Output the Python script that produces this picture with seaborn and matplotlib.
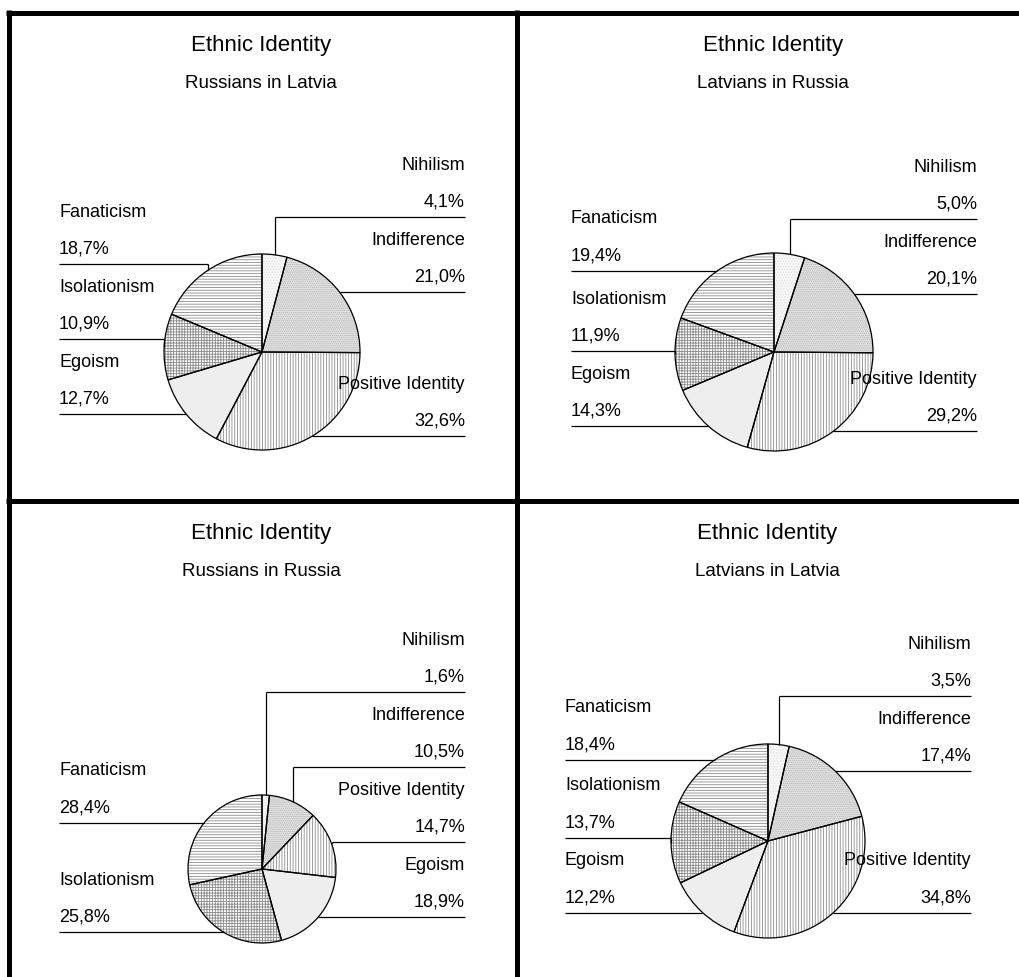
import numpy as np
import matplotlib
matplotlib.use("Agg")
import matplotlib.pyplot as plt
import seaborn as sns

# ---- data -------------------------------------------------------------
categories = ["Nihilism", "Indifference", "Positive Identity",
              "Egoism", "Isolationism", "Fanaticism"]
chart_title = "Ethnic Identity"
groups = ["Russians in Latvia", "Latvians in Russia",
          "Russians in Russia", "Latvians in Latvia"]
russians_in_latvia = [4.1, 21.0, 32.6, 12.7, 10.9, 18.7]
latvians_in_russia = [5.0, 20.1, 29.2, 14.3, 11.9, 19.4]
russians_in_russia = [1.6, 10.5, 14.7, 18.9, 25.8, 28.4]
latvians_in_latvia = [3.5, 17.4, 34.8, 12.2, 13.7, 18.4]
series = [russians_in_latvia, latvians_in_russia,
          russians_in_russia, latvians_in_latvia]

# ---- styling ----------------------------------------------------------
face = {"Nihilism": "#f7f7f7", "Indifference": "#e2e2e2",
        "Positive Identity": "white", "Egoism": "#eeeeee",
        "Isolationism": "white", "Fanaticism": "white"}
hatch = {"Nihilism": "......", "Indifference": "........",
         "Positive Identity": "||||||", "Egoism": "",
         "Isolationism": "++++++", "Fanaticism": "------"}
hatch_color = {"Nihilism": "#e0e0e0", "Indifference": "#b4b4b4",
               "Positive Identity": "#8c8c8c", "Egoism": "#eeeeee",
               "Isolationism": "#8c8c8c", "Fanaticism": "#8c8c8c"}

sns.set_theme(style="white")
plt.rcParams["font.family"] = ["Liberation Sans", "DejaVu Sans"]
plt.rcParams["hatch.linewidth"] = 0.6

W, H = 1019, 978
fig = plt.figure(figsize=(W / 100, H / 100), dpi=100)
ax = fig.add_axes([0, 0, 1, 1])
fig.patch.set_facecolor("white")


def Y(y):
    """Pixel row measured from the top -> axes y."""
    return H - y


# panel layout in pixels: pie centre, radius, top edge of the panel
layout = [
    dict(cx=262, cy=353, r=98, top=13),
    dict(cx=774, cy=353, r=99, top=13),
    dict(cx=262, cy=870, r=74, top=501),
    dict(cx=768, cy=842, r=97, top=501),
]
col_off = 203      # label column distance from the pie centre
gap = 75           # minimal vertical distance between two label blocks
name_dy, pct_dy = 53, 16

for spec, sub, vals in zip(layout, groups, series):
    cx, cy, r = spec["cx"], spec["cy"], spec["r"]
    centre = (cx, Y(cy))
    vals = np.asarray(vals, dtype=float)

    # filled, hatched wedges
    wedges, _ = ax.pie(vals, radius=r, center=centre, startangle=90,
                       counterclock=False, wedgeprops=dict(linewidth=0))
    for w, cat in zip(wedges, categories):
        w.set_facecolor(face[cat])
        w.set_edgecolor(hatch_color[cat])
        w.set_hatch(hatch[cat])
    # black outlines on top
    ax.pie(vals, radius=r, center=centre, startangle=90, counterclock=False,
           wedgeprops=dict(fill=False, edgecolor="black", linewidth=0.9))

    # titles
    ax.text(cx - 1, Y(spec["top"] + 33), chart_title, ha="center",
            va="center", fontsize=16, color="black")
    ax.text(cx - 1, Y(spec["top"] + 71), sub, ha="center", va="center",
            fontsize=13.5, color="black")

    # label placement: start at the wedge midpoint, push up to avoid overlap
    frac = vals / vals.sum()
    mids = (np.cumsum(frac) - frac / 2) * 2 * np.pi
    mx = cx + r * np.sin(mids)
    my = cy - r * np.cos(mids)
    right = np.sin(mids) >= 0
    line_y = my.copy()
    for side in (right, ~right):
        idx = np.where(side)[0]
        order = idx[np.argsort(-my[idx])]
        for k in range(1, len(order)):
            i, prev = order[k], order[k - 1]
            line_y[i] = min(line_y[i], line_y[prev] - gap)

    for i, cat in enumerate(categories):
        if right[i]:
            xe, ha = cx + col_off, "right"
        else:
            xe, ha = cx - col_off, "left"
        ax.plot([xe, mx[i]], [Y(line_y[i]), Y(line_y[i])],
                color="black", lw=0.9, solid_capstyle="butt")
        ax.plot([mx[i], mx[i]], [Y(line_y[i]), Y(my[i])],
                color="black", lw=0.9, solid_capstyle="butt")
        ax.text(xe, Y(line_y[i] - name_dy), cat, ha=ha, va="center",
                fontsize=13, color="black")
        pct = f"{vals[i]:.1f}%".replace(".", ",")
        ax.text(xe, Y(line_y[i] - pct_dy), pct, ha=ha, va="center",
                fontsize=13, color="black")

# heavy frame dividing the four panels
bw = 3.6
ax.plot([6, W], [Y(13.5), Y(13.5)], color="black", lw=bw, solid_capstyle="butt")
ax.plot([8.5, 8.5], [Y(11), 0], color="black", lw=bw, solid_capstyle="butt")
ax.plot([517.5, 517.5], [Y(11), 0], color="black", lw=bw, solid_capstyle="butt")
ax.plot([6, W], [Y(501.5), Y(501.5)], color="black", lw=bw, solid_capstyle="butt")

ax.set_xlim(0, W)
ax.set_ylim(0, H)
ax.set_aspect("equal", adjustable="box")
ax.axis("off")

fig.savefig("out.png", dpi=100, facecolor="white")
